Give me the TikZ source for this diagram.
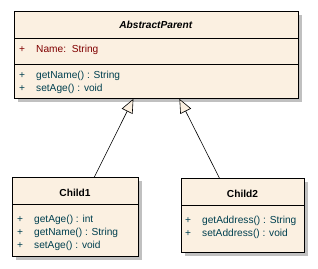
\documentclass[tikz,border=0pt]{standalone}
\usepackage{fontspec}
\setmainfont{Liberation Sans}
\usetikzlibrary{arrows.meta,shadows}

\definecolor{classfill}{RGB}{251,240,225}
\definecolor{attrred}{RGB}{128,0,0}
\definecolor{opteal}{RGB}{0,64,80}
\definecolor{shadowgray}{RGB}{192,192,192}

\newcommand{\umlfont}{\fontsize{10.2}{12}\selectfont}
\newcommand{\vis}[1]{\makebox[17bp][l]{#1}}

\begin{document}
\begin{tikzpicture}[x=1bp, y=-1bp,
    classbox/.style={draw, fill=classfill, line width=0.8bp, anchor=north west,
        inner sep=0pt,
        drop shadow={shadow xshift=4bp, shadow yshift=-4bp, fill=shadowgray, opacity=1}},
    classtitle/.style={font=\umlfont\bfseries, inner sep=0pt, text height=7.3bp, text depth=0pt},
    member/.style={font=\umlfont, anchor=west, inner sep=0pt, text height=7.3bp, text depth=0pt},
    inherit/.style={line width=0.6bp, -{Triangle[open, length=14bp, width=12bp, fill=classfill]}}]
    \useasboundingbox (0,0) rectangle (318,269);

    % AbstractParent
    \node[classbox, minimum width=284bp, minimum height=87bp] (parent) at (14,11) {};
    \draw[line width=0.8bp] ([yshift=-27bp]parent.north west) -- ([yshift=-27bp]parent.north east);
    \draw[line width=0.8bp] ([yshift=-53bp]parent.north west) -- ([yshift=-53bp]parent.north east);
    \node[classtitle] (ptitle) at (156,25) {\textit{AbstractParent}};
    \node[member, text=attrred] (pattr) at (19,49) {\vis{+}Name:\ \ String};
    \node[member, text=opteal] (pop1) at (19,74.5) {\vis{+}getName() : String};
    \node[member, text=opteal] (pop2) at (19,88) {\vis{+}setAge() : void};

    % Child1
    \node[classbox, minimum width=126bp, minimum height=79bp] (child1) at (12,177) {};
    \draw[line width=0.8bp] ([yshift=-27bp]child1.north west) -- ([yshift=-27bp]child1.north east);
    \node[classtitle] (ctitle1) at (75,193) {Child1};
    \node[member, text=opteal] (cop11) at (17,218.5) {\vis{+}getAge() : int};
    \node[member, text=opteal] (cop12) at (17,231.5) {\vis{+}getName() : String};
    \node[member, text=opteal] (cop13) at (17,244.5) {\vis{+}setAge() : void};

    % Child2
    \node[classbox, minimum width=123bp, minimum height=74bp] (child2) at (181,178) {};
    \draw[line width=0.8bp] ([yshift=-27bp]child2.north west) -- ([yshift=-27bp]child2.north east);
    \node[classtitle] (ctitle2) at (242.5,194) {Child2};
    \node[member, text=opteal] (cop21) at (185,220) {\vis{+}getAddress() : String};
    \node[member, text=opteal] (cop22) at (185,233) {\vis{+}setAddress() : void};

    % Generalisations
    \draw[inherit] ([xshift=19bp]child1.north) -- ([xshift=-23bp]parent.south);
    \draw[inherit] ([xshift=-23.5bp]child2.north) -- ([xshift=23bp]parent.south);
\end{tikzpicture}
\end{document}
